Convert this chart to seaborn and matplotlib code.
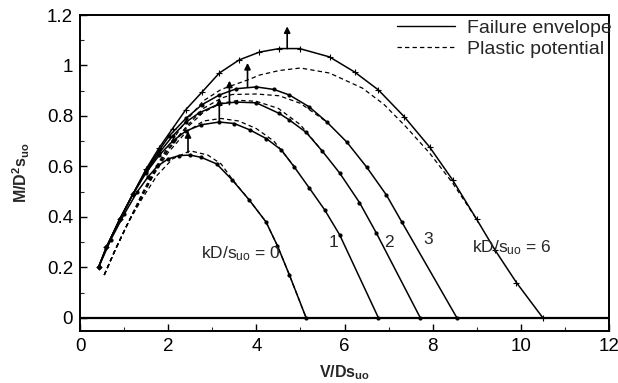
import matplotlib
matplotlib.use("Agg")
import matplotlib.pyplot as plt
from matplotlib.lines import Line2D
from matplotlib.ticker import MultipleLocator
import seaborn as sns
import pandas as pd

# ------------------------------------------------------------------
# Data: failure envelopes (solid) and
# plastic potentials (dashed) for kD/s_uo = 0, 1, 2, 3, 6
# ------------------------------------------------------------------
fe0_v = [0.42, 0.7, 1.0, 1.3, 1.55, 1.75, 2.0, 2.25, 2.5, 2.75, 3.1, 3.45, 3.84, 4.22, 4.48, 4.75, 5.13]
fe0_m = [0.20, 0.31, 0.41, 0.50, 0.56, 0.60, 0.63, 0.643, 0.645, 0.636, 0.61, 0.547, 0.467, 0.38, 0.285, 0.17, 0.0]

fe1_v = [0.42, 0.6, 0.9, 1.2, 1.5, 1.8, 2.1, 2.4, 2.75, 3.16, 3.5, 3.85, 4.23, 4.57, 4.86, 5.2, 5.55, 5.89, 6.77]
fe1_m = [0.20, 0.28, 0.39, 0.49, 0.575, 0.645, 0.70, 0.74, 0.765, 0.776, 0.77, 0.745, 0.71, 0.665, 0.598, 0.515, 0.428, 0.329, 0.0]

fe2_v = [0.42, 0.6, 0.9, 1.2, 1.5, 1.8, 2.1, 2.4, 2.7, 3.16, 3.55, 4.0, 4.52, 4.75, 5.13, 5.5, 5.89, 6.34, 6.72, 7.72]
fe2_m = [0.20, 0.28, 0.39, 0.49, 0.58, 0.655, 0.72, 0.775, 0.812, 0.848, 0.855, 0.852, 0.81, 0.784, 0.735, 0.66, 0.574, 0.457, 0.337, 0.0]

fe3_v = [0.42, 0.6, 0.9, 1.2, 1.5, 1.8, 2.02, 2.4, 2.77, 3.16, 3.55, 4.0, 4.4, 4.75, 5.2, 5.6, 6.05, 6.5, 6.95, 7.3, 8.55]
fe3_m = [0.20, 0.28, 0.39, 0.49, 0.585, 0.665, 0.72, 0.79, 0.845, 0.883, 0.908, 0.915, 0.905, 0.883, 0.836, 0.776, 0.697, 0.598, 0.487, 0.38, 0.0]

fe6_v = [0.42, 0.6, 0.9, 1.2, 1.5, 1.8, 2.1, 2.4, 2.77, 3.16, 3.61, 4.07, 4.52, 4.98, 5.66, 6.23, 6.77, 7.36, 7.93, 8.45, 9.0, 9.41, 9.9, 10.5]
fe6_m = [0.20, 0.28, 0.39, 0.49, 0.59, 0.675, 0.75, 0.825, 0.895, 0.97, 1.022, 1.053, 1.067, 1.067, 1.034, 0.974, 0.903, 0.796, 0.677, 0.547, 0.39, 0.27, 0.14, 0.0]

pp0_v = [0.55, 0.8, 1.1, 1.4, 1.75, 2.1, 2.5, 2.9, 3.2, 3.45, 3.84, 4.22, 4.48, 4.75, 5.13]
pp0_m = [0.17, 0.27, 0.38, 0.47, 0.565, 0.63, 0.662, 0.645, 0.61, 0.55, 0.467, 0.38, 0.285, 0.17, 0.0]

pp1_v = [0.55, 0.8, 1.1, 1.4, 1.7, 2.0, 2.4, 2.8, 3.2, 3.6, 4.0, 4.4, 4.86]
pp1_m = [0.17, 0.27, 0.38, 0.48, 0.575, 0.655, 0.735, 0.78, 0.79, 0.78, 0.75, 0.70, 0.60]

pp2_v = [0.55, 0.8, 1.1, 1.4, 1.7, 2.0, 2.4, 2.8, 3.2, 3.6, 4.0, 4.5, 5.0, 5.5]
pp2_m = [0.17, 0.27, 0.38, 0.48, 0.58, 0.665, 0.75, 0.815, 0.85, 0.862, 0.858, 0.83, 0.765, 0.66]

pp3_v = [0.55, 0.8, 1.1, 1.4, 1.7, 2.0, 2.4, 2.8, 3.2, 3.45, 4.0, 4.52, 5.0, 5.6]
pp3_m = [0.17, 0.27, 0.38, 0.48, 0.585, 0.67, 0.755, 0.83, 0.87, 0.885, 0.887, 0.88, 0.85, 0.776]

pp6_v = [0.55, 0.8, 1.1, 1.4, 1.7, 2.0, 2.4, 2.8, 3.2, 3.6, 3.84, 4.07, 4.52, 5.0, 5.66, 6.41, 6.9, 7.4, 7.93, 8.45, 9.0]
pp6_m = [0.17, 0.27, 0.38, 0.49, 0.59, 0.68, 0.78, 0.86, 0.905, 0.93, 0.945, 0.962, 0.98, 0.99, 0.97, 0.91, 0.845, 0.756, 0.653, 0.535, 0.39]

# vertical arrows at the peaks
arrow_v = [2.45, 3.16, 3.39, 3.8, 4.7]
arrow_base = [0.655, 0.776, 0.845, 0.915, 1.067]
arrow_tip = [0.74, 0.87, 0.94, 1.01, 1.155]

# curve labels
label_text = [r"kD/s$_{uo}$ = 0", "1", "2", "3", r"kD/s$_{uo}$ = 6"]
label_v = [2.75, 5.65, 6.9, 7.8, 8.9]
label_m = [0.253, 0.30, 0.30, 0.31, 0.28]

# ------------------------------------------------------------------
# Style
# ------------------------------------------------------------------
sns.set_theme(style="ticks")
plt.rcParams["font.family"] = ["Liberation Sans", "DejaVu Sans"]
plt.rcParams["mathtext.fontset"] = "custom"
plt.rcParams["mathtext.rm"] = "Liberation Sans"
plt.rcParams["mathtext.it"] = "Liberation Sans:italic"
plt.rcParams["mathtext.bf"] = "Liberation Sans:bold"
plt.rcParams["mathtext.default"] = "regular"

fig = plt.figure(figsize=(6.18, 3.83), dpi=100)
ax = fig.add_axes([80 / 618, 1 - 331 / 383, 529 / 618, 316 / 383])

solid = [(fe0_v, fe0_m, "o"), (fe1_v, fe1_m, "o"), (fe2_v, fe2_m, "o"),
         (fe3_v, fe3_m, "o"), (fe6_v, fe6_m, "+")]
dashed = [(pp0_v, pp0_m), (pp1_v, pp1_m), (pp2_v, pp2_m), (pp3_v, pp3_m), (pp6_v, pp6_m)]

for v, m, mk in solid:
    df = pd.DataFrame({"V": v, "M": m})
    sns.lineplot(data=df, x="V", y="M", ax=ax, sort=False, estimator=None,
                 color="black", lw=1.1, marker=mk,
                 markersize=5 if mk == "+" else 2.2,
                 markeredgecolor="black", markerfacecolor="black",
                 markeredgewidth=0.8)

for v, m in dashed:
    df = pd.DataFrame({"V": v, "M": m})
    sns.lineplot(data=df, x="V", y="M", ax=ax, sort=False, estimator=None,
                 color="black", lw=0.9, linestyle=(0, (3.5, 2.5)))

ax.axhline(0, color="black", lw=1.6, zorder=1)

for x, y0, y1 in zip(arrow_v, arrow_base, arrow_tip):
    ax.annotate("", xy=(x, y1), xytext=(x, y0),
                arrowprops=dict(arrowstyle="-|>", color="black", lw=1.2,
                                mutation_scale=9, shrinkA=0, shrinkB=0))

for t, x, y in zip(label_text, label_v, label_m):
    ax.text(x, y, t, fontsize=12.5, ha="left", va="center")

ax.set_xlim(0, 12)
ax.set_ylim(-0.052, 1.2)
ax.xaxis.set_major_locator(MultipleLocator(2))
ax.xaxis.set_minor_locator(MultipleLocator(1))
ax.yaxis.set_minor_locator(MultipleLocator(0.1))
ax.set_yticks([0, 0.2, 0.4, 0.6, 0.8, 1.0, 1.2])
ax.set_yticklabels(["0", "0.2", "0.4", "0.6", "0.8", "1", "1.2"])
ax.tick_params(which="major", direction="in", length=5, width=1, labelsize=13.5,
               colors="black", pad=5)
ax.tick_params(which="minor", direction="in", length=3, width=0.8)

for s in ax.spines.values():
    s.set_visible(True)
    s.set_linewidth(1.4)
    s.set_color("black")

ax.set_xlabel(r"$\mathbf{V/Ds_{uo}}$", fontsize=11.5, labelpad=6)
ax.set_ylabel(r"$\mathbf{M/D^{2}s_{uo}}$", fontsize=11.5, labelpad=11)

handles = [Line2D([], [], color="black", lw=1.0),
           Line2D([], [], color="black", lw=0.9, linestyle=(0, (3.5, 2.5)))]
fig.legend(handles, ["Failure envelope", "Plastic potential"],
           loc="upper left", bbox_to_anchor=(397 / 618, 1 - 19 / 383),
           frameon=False, fontsize=14, handlelength=3.0, handletextpad=0.6,
           borderpad=0, borderaxespad=0, labelspacing=0.2)

fig.savefig("out.png", dpi=100)
